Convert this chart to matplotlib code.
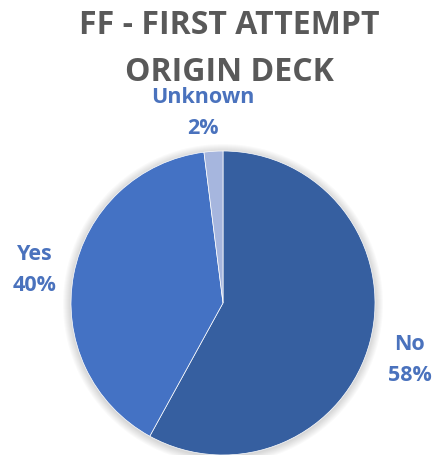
import matplotlib.pyplot as plt
from matplotlib.patches import Circle

# answer categories and their share of first attempts
labels = ["No", "Yes", "Unknown"]
shares = [58, 40, 2]
colors = ["#365fa0", "#4472c4", "#a6b6de"]

title = "FF - FIRST ATTEMPT\nORIGIN DECK"

fig = plt.figure(figsize=(4.37, 4.56), dpi=100)
ax = fig.add_axes([0, 0, 1, 1])

cx, cy, r = 223, 152, 152

# soft shadow behind the pie
for i in range(8):
    ax.add_patch(Circle((cx, cy - 1), r + 1 + i, color="black",
                        alpha=0.018, lw=0, zorder=0))

wedges, _ = ax.pie(shares, colors=colors, startangle=90, counterclock=False,
                   center=(cx, cy), radius=r, frame=True,
                   wedgeprops=dict(edgecolor="white", linewidth=0.5))
ax.set_xlim(0, 437)
ax.set_ylim(0, 456)
ax.set_aspect("equal")
ax.axis("off")

label_pos = [(410, 96), (35, 186), (203, 343)]
for name, val, (x, y) in zip(labels, shares, label_pos):
    ax.text(x, y, f"{name}\n{val}%", ha="center", va="center",
            fontsize=15.5, fontweight="bold", color="#4a72bd",
            family="Open Sans", linespacing=1.6)

ax.text(229, 407, title, ha="center", va="center", fontsize=23,
        fontweight="bold", color="#595959", family="Open Sans",
        linespacing=1.55)

fig.savefig("out.png", dpi=100)
